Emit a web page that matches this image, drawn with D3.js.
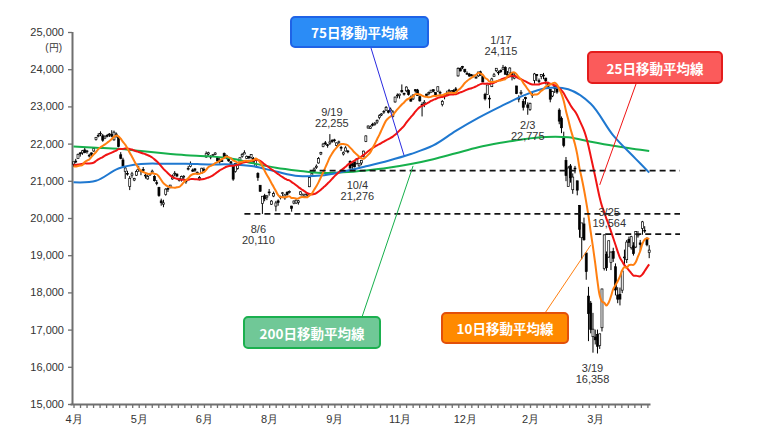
<!DOCTYPE html>
<html>
<head>
<meta charset="utf-8">
<script src="https://cdn.jsdelivr.net/npm/d3@7"></script>
<style>
  html, body { margin: 0; padding: 0; background: #fff; }
  svg { display: block; font-family: "Liberation Sans", Arial, sans-serif; }
  .axis text { font-size: 11px; fill: #333; }
  .axis line, .axis path { stroke: #6f6f6f; }
  .ann { font-size: 11px; fill: #333; }
  .box-label { font-family: "Noto Sans CJK JP", sans-serif; font-weight: bold; font-size: 13.5px; fill: #fff; }
</style>
</head>
<body>
<svg id="chart" width="760" height="437"></svg>
<script>
// trading days, Apr 2019 - Apr 2020
var dates = [
  "4/1","4/2","4/3","4/4","4/5","4/8","4/9","4/10","4/11","4/12","4/15","4/16","4/17","4/18","4/19","4/22","4/23","4/24","4/25","4/26",
  "5/7","5/8","5/9","5/10","5/13","5/14","5/15","5/16","5/17","5/20","5/21","5/22","5/23","5/24","5/27","5/28","5/29","5/30","5/31",
  "6/3","6/4","6/5","6/6","6/7","6/10","6/11","6/12","6/13","6/14","6/17","6/18","6/19","6/20","6/21","6/24","6/25","6/26","6/27","6/28",
  "7/1","7/2","7/3","7/4","7/5","7/8","7/9","7/10","7/11","7/12","7/16","7/17","7/18","7/19","7/22","7/23","7/24","7/25","7/26","7/29","7/30","7/31",
  "8/1","8/2","8/5","8/6","8/7","8/8","8/9","8/13","8/14","8/15","8/16","8/19","8/20","8/21","8/22","8/23","8/26","8/27","8/28","8/29","8/30",
  "9/2","9/3","9/4","9/5","9/6","9/9","9/10","9/11","9/12","9/13","9/17","9/18","9/19","9/20","9/24","9/25","9/26","9/27","9/30",
  "10/1","10/2","10/3","10/4","10/7","10/8","10/9","10/10","10/11","10/15","10/16","10/17","10/18","10/21","10/23","10/24","10/25","10/28","10/29","10/30","10/31",
  "11/1","11/5","11/6","11/7","11/8","11/11","11/12","11/13","11/14","11/15","11/18","11/19","11/20","11/21","11/22","11/25","11/26","11/27","11/28","11/29",
  "12/2","12/3","12/4","12/5","12/6","12/9","12/10","12/11","12/12","12/13","12/16","12/17","12/18","12/19","12/20","12/23","12/24","12/25","12/26","12/27","12/30",
  "1/6","1/7","1/8","1/9","1/10","1/14","1/15","1/16","1/17","1/20","1/21","1/22","1/23","1/24","1/27","1/28","1/29","1/30","1/31",
  "2/3","2/4","2/5","2/6","2/7","2/10","2/12","2/13","2/14","2/17","2/18","2/19","2/20","2/21","2/25","2/26","2/27","2/28",
  "3/2","3/3","3/4","3/5","3/6","3/9","3/10","3/11","3/12","3/13","3/16","3/17","3/18","3/19","3/23","3/24","3/25","3/26","3/27","3/30","3/31",
  "4/1","4/2","4/3","4/6","4/7","4/8","4/9","4/10","4/13","4/14","4/15","4/16","4/17","4/20","4/21","4/22"
];

var opens = [
  21450,21530,21600,21750,21750,21830,21780,21680,21750,21800,22110,22200,22260,22210,22150,22220,22250,22250,22100,22250,
  22160,21700,21560,21250,21200,20850,21150,21020,21150,21320,21280,21300,21150,21050,21160,21230,21120,20950,20820,
  20460,20370,20630,20800,20830,21050,21180,21180,21030,21050,21100,21010,21320,21390,21290,21320,21230,21050,21210,21310,
  21640,21720,21660,21680,21710,21620,21510,21540,21730,21620,21620,21510,21400,21250,21330,21500,21660,21720,21600,21650,21630,21600,
  21390,21200,20880,20390,20600,20560,20700,20370,20590,20320,20460,20570,20660,20540,20690,20690,20320,20400,20400,20420,20630,
  20580,20580,20620,20840,21150,21260,21360,21480,21720,21920,22020,21970,22010,22080,22100,21950,22030,21900,21720,
  21800,21800,21520,21450,21500,21460,21400,21480,21650,22060,22420,22410,22520,22510,22580,22700,22770,22860,22900,22880,22880,
  22730,23120,23300,23290,23430,23350,23420,23430,23250,23200,23450,23440,23260,23050,23080,23330,23340,23380,23450,23370,
  23410,23380,23050,23260,23330,23430,23380,23430,23470,23820,24020,24070,24000,23890,23870,23850,23840,23760,23820,23930,23800,
  23320,23320,23220,23530,23800,23960,23920,23970,24000,24050,23850,23900,23900,23760,23550,23200,23350,23130,23240,
  23040,22920,23310,23700,23860,23690,23800,23840,23760,23620,23460,23280,23540,23470,22900,22680,22150,21550,
  20850,21400,20760,21340,21000,20340,19470,19840,19060,17900,17710,16810,16800,16870,16570,17050,18640,19020,18950,18800,19100,
  18690,17930,17950,18060,18950,18880,19430,19200,19250,19220,19520,19330,19720,19670,19450,19070
];

var highs = [
  21510,21590,21730,21770,21830,21900,21830,21730,21760,21880,22170,22280,22330,22260,22220,22260,22280,22360,22350,22300,
  22200,21770,21620,21390,21270,21130,21240,21080,21300,21400,21300,21370,21220,21170,21200,21300,21150,21020,20840,
  20520,20490,20800,20820,20890,21170,21260,21200,21080,21140,21150,21040,21400,21520,21330,21340,21250,21130,21350,21360,
  21790,21780,21690,21720,21770,21640,21610,21590,21760,21700,21630,21530,21420,21480,21420,21630,21750,21820,21680,21670,21720,21640,
  21600,21230,20880,20590,20650,20620,20780,20480,20710,20460,20500,20600,20700,20650,20720,20740,20330,20470,20500,20490,20720,
  20660,20660,20680,21120,21230,21360,21440,21640,21780,22020,22070,21990,22255,22120,22130,22030,22080,21940,21790,
  21930,21830,21550,21480,21510,21610,21480,21560,21810,22220,22490,22490,22560,22580,22650,22790,22820,22900,23010,22900,22970,
  22900,23260,23350,23340,23590,23370,23540,23460,23290,23330,23460,23470,23290,23110,23170,23340,23400,23440,23460,23380,
  23530,23420,23170,23330,23420,23470,23440,23460,23520,24050,24050,24090,24000,23940,23900,23870,23850,23820,23930,23960,23810,
  23365,23580,23300,23770,23900,24030,23960,23990,24115,24080,23950,24050,23920,23900,23550,23300,23440,23200,23260,
  23110,23100,23400,23900,23870,23750,23870,23900,23770,23660,23460,23420,23560,23490,22950,22730,22320,21640,
  21400,21450,21200,21400,21000,20350,19870,20010,19060,18150,17770,17450,17000,17000,16890,18100,19564,19100,19390,19100,19200,
  18780,18140,18130,18600,19150,19410,19500,19520,19350,19650,19650,19410,19922,19780,19480,19270
];

var lows = [
  21380,21470,21590,21650,21700,21740,21730,21630,21650,21780,22080,22170,22200,22050,22120,22170,22180,22170,22080,22160,
  21900,21580,21380,21050,21140,20750,21080,20990,21130,21240,21150,21250,21060,21030,21130,21180,20980,20880,20570,
  20330,20290,20600,20700,20800,21030,21120,21100,20980,20980,21050,20920,21280,21360,21240,21240,21160,21010,21190,21250,
  21620,21680,21580,21650,21690,21510,21460,21510,21600,21580,21510,21450,21000,21220,21300,21470,21620,21720,21590,21580,21590,21480,
  21380,21000,20700,20110,20450,20480,20600,20350,20560,20180,20330,20500,20580,20490,20600,20660,20170,20370,20380,20360,20610,
  20560,20570,20560,20830,21110,21250,21320,21460,21690,21900,21960,21890,21960,22020,22030,21920,21990,21800,21680,
  21790,21740,21330,21276,21360,21440,21380,21420,21630,22040,22400,22400,22460,22480,22530,22650,22740,22800,22880,22810,22860,
  22700,23100,23220,23210,23370,23290,23380,23290,23130,23170,23370,23290,23130,22730,22980,23250,23300,23370,23380,23270,
  23390,23300,23000,23190,23300,23380,23370,23370,23400,23800,23940,24000,23900,23860,23800,23810,23780,23750,23790,23830,23650,
  23160,23320,22950,23520,23790,23920,23840,23900,23980,23860,23820,23880,23700,23730,23330,23110,23300,22890,23050,
  22775,22880,23230,23610,23680,23620,23730,23730,23590,23500,23110,23250,23360,23340,22520,22280,21900,20990,
  20850,20950,20650,21200,20610,19470,18890,19390,18340,16690,16900,16380,16600,16358,16480,16950,18590,18580,18930,18600,18820,
  17920,17710,17650,17980,18700,18790,19220,19150,18990,19190,19470,19100,19550,19600,19240,18920
];

var closes = [
  21509,21505,21713,21724,21807,21761,21802,21687,21711,21870,22169,22221,22277,22090,22200,22217,22259,22200,22307,22258,
  21923,21602,21402,21344,21191,21067,21188,21062,21250,21301,21272,21283,21151,21117,21182,21260,21003,20942,20601,
  20410,20408,20776,20774,20884,21134,21204,21129,21032,21116,21124,20972,21333,21462,21258,21285,21193,21086,21338,21275,
  21729,21754,21638,21702,21746,21534,21565,21533,21643,21685,21535,21469,21046,21466,21416,21620,21709,21756,21658,21616,21709,21521,
  21540,21087,20720,20585,20516,20593,20684,20455,20655,20405,20418,20563,20677,20618,20628,20710,20261,20456,20479,20460,20704,
  20620,20625,20649,21085,21200,21318,21392,21597,21759,21988,22001,21961,22044,22079,22098,22020,22048,21878,21756,
  21885,21778,21341,21410,21375,21587,21456,21551,21798,22207,22472,22451,22492,22548,22625,22750,22799,22867,22974,22843,22927,
  22850,23251,23303,23330,23391,23331,23520,23319,23141,23303,23416,23292,23148,23038,23112,23292,23373,23437,23409,23293,
  23529,23379,23135,23300,23354,23430,23410,23391,23424,24023,23952,24066,23934,23864,23816,23821,23830,23782,23924,23837,23656,
  23204,23575,23204,23739,23850,24025,23916,23933,24041,23864,23864,24031,23795,23827,23343,23215,23379,22977,23205,
  22971,23084,23319,23873,23827,23685,23861,23827,23687,23523,23194,23400,23479,23386,22605,22426,21948,21142,
  21344,21082,21100,21329,20749,19698,19867,19416,18559,17431,17002,17011,16726,16552,16887,18092,19546,18665,19389,19084,18917,
  18065,17818,17820,18576,18950,19353,19345,19498,19043,19638,19550,19290,19897,19669,19280,19137
];

// closes before 4/1 (2/25 - 3/29), only used to start the 10/25 day averages
var priorCloses = [
  21528,21449,21556,21385,21602,21822,21726,21596,21456,21025,21125,21503,
  21290,21287,21450,21584,21566,21608,21627,20977,21428,21378,21033,21205
];

// 75 / 200 day averages, every 10 trading days
var maDay = [0,10,20,30,40,50,60,70,80,90,100,110,120,130,140,150,160,170,180,190,200,210,220,230,240,250,256];
var ma75 = [20960,21000,21330,21450,21460,21460,21440,21440,21390,21250,21130,21140,21250,21390,21540,21720,21950,22340,22690,23000,23290,23490,23460,23070,22220,21590,21220];
var ma200 = [21920,21890,21860,21800,21740,21690,21660,21600,21470,21350,21270,21210,21230,21280,21350,21450,21580,21740,21900,22020,22120,22180,22170,22050,21940,21850,21800];

var yTicks = [15000,16000,17000,18000,19000,20000,21000,22000,23000,24000,25000];
var monthLabels = ["4月","5月","6月","8月","9月","11月","12月","2月","3月"];

// marked highs / lows
var annDates = ["8/6","9/19","10/4","1/17","2/3","3/19","3/25"];
var annValues = [20110,22255,21276,24115,22775,16358,19564];

// dashed support lines: level date, first date of line
var lineDates = ["10/4","8/6","3/25"];
var lineFrom = ["9/5","7/25","3/18"];

var legendNames = ["75日移動平均線","25日移動平均線","200日移動平均線","10日移動平均線"];
// leader end points on each line (day index, value)
var legendDay = [147, 234, 151, 230];
var legendValue = [21680, 20890, 21400, 19270];


var svg = d3.select("#chart");
var n = closes.length;

var x = d3.scaleLinear().domain([0, n - 1]).range([73.5, 649.2]);
var y = d3.scaleLinear().domain([15000, 25000]).range([404, 32]);

// axes
var yAxis = svg.append("g")
    .attr("class", "axis")
    .attr("transform", "translate(72,0)")
    .call(d3.axisLeft(y).tickValues(yTicks).tickFormat(d3.format(",")).tickSize(4).tickSizeOuter(0).tickPadding(4));

var tickDays = d3.range(0, n, 2.9);
var xAxis = svg.append("g")
    .attr("class", "axis")
    .attr("transform", "translate(0,404)")
    .call(d3.axisBottom(x).tickValues(tickDays).tickSize(4).tickSizeOuter(0).tickPadding(7)
        .tickFormat(function(d, i){ return i % 10 === 0 ? monthLabels[i / 10] : ""; }));

svg.selectAll(".axis path").attr("stroke-width", 2);
svg.selectAll(".axis line").attr("stroke-width", 1.3);
xAxis.select("path").attr("d", "M70.5,0.5H650.5");
yAxis.select("path").attr("d", "M0.5,404.5V32");

svg.append("text")
    .attr("class", "ann")
    .attr("x", 62).attr("y", 51)
    .attr("text-anchor", "end")
    .style("font-size", "10px")
    .text("(円)");

// candles
var candles = svg.append("g");
candles.selectAll("line")
    .data(d3.range(n))
    .enter().append("line")
        .attr("x1", function(i){ return x(i); })
        .attr("x2", function(i){ return x(i); })
        .attr("y1", function(i){ return y(highs[i]); })
        .attr("y2", function(i){ return y(lows[i]); })
        .attr("stroke", "#000")
        .attr("stroke-width", 1);

candles.selectAll("rect")
    .data(d3.range(n))
    .enter().append("rect")
        .attr("x", function(i){ return x(i) - 1; })
        .attr("width", 2)
        .attr("y", function(i){ return y(Math.max(opens[i], closes[i])); })
        .attr("height", function(i){ return Math.max(0.8, Math.abs(y(opens[i]) - y(closes[i]))); })
        .attr("fill", function(i){ return closes[i] >= opens[i] ? "#fff" : "#000"; })
        .attr("stroke", "#000")
        .attr("stroke-width", 0.7);

// moving averages
var allCloses = priorCloses.concat(closes);
function movingAvg(k){
    return closes.map(function(c, i){
        var end = i + priorCloses.length + 1;
        return d3.mean(allCloses.slice(end - k, end));
    });
}
var ma10 = movingAvg(10);
var ma25 = movingAvg(25);

var line = d3.line()
    .x(function(d){ return x(d[0]); })
    .y(function(d){ return y(d[1]); })
    .curve(d3.curveCatmullRom);

var maLines = [
    { pts: maDay.map(function(d, i){ return [d, ma200[i]]; }), color: "#16b04c" },
    { pts: maDay.map(function(d, i){ return [d, ma75[i]]; }), color: "#1f78d0" },
    { pts: ma25.map(function(v, i){ return [i, v]; }), color: "#f01414" },
    { pts: ma10.map(function(v, i){ return [i, v]; }), color: "#ff7f10" }
];

svg.append("g").selectAll("path")
    .data(maLines)
    .enter().append("path")
        .attr("d", function(d){ return line(d.pts); })
        .attr("fill", "none")
        .attr("stroke", function(d){ return d.color; })
        .attr("stroke-width", 2);

// dashed levels
svg.append("g").selectAll("line")
    .data(lineDates)
    .enter().append("line")
        .attr("x1", function(d, i){ return x(dates.indexOf(lineFrom[i])); })
        .attr("x2", 680)
        .attr("y1", function(d){ return y(annValues[annDates.indexOf(d)]); })
        .attr("y2", function(d){ return y(annValues[annDates.indexOf(d)]); })
        .attr("stroke", "#111")
        .attr("stroke-width", 1.8)
        .attr("stroke-dasharray", "6,4");

// high / low labels
var annLayout = [
    { dx: -4, dy: 15 }, { dx: 2, dy: -22 }, { dx: 5, dy: 15 }, { dx: -2, dy: -25 },
    { dx: 0, dy: 10 }, { dx: -5, dy: 15 }, { dx: 5, dy: -22 }
];
var fmt = d3.format(",");
var ann = svg.append("g").selectAll("text")
    .data(annDates)
    .enter().append("text")
        .attr("class", "ann")
        .attr("text-anchor", "middle")
        .attr("x", function(d, i){ return x(dates.indexOf(d)) + annLayout[i].dx; })
        .attr("y", function(d, i){ return y(annValues[i]) + annLayout[i].dy; });
ann.append("tspan").attr("dy", "0.35em").text(function(d){ return d; });
ann.append("tspan")
    .attr("x", function(d, i){ return x(dates.indexOf(d)) + annLayout[i].dx; })
    .attr("dy", "11")
    .text(function(d, i){ return fmt(annValues[i]); });

// legend callouts
var boxes = [
    { x: 291, y: 17, w: 137, h: 30, fill: "#2b8cf6", stroke: "#1f63e6", lead: "#2a2ae0", from: [371, 48] },
    { x: 588, y: 52, w: 134, h: 31, fill: "#fb5b5b", stroke: "#e41c1c", lead: "#f01414", from: [636, 84] },
    { x: 244, y: 317, w: 136, h: 31, fill: "#70c897", stroke: "#1bb04f", lead: "#16b04c", from: [362, 317] },
    { x: 442, y: 313, w: 126, h: 30, fill: "#ff8a00", stroke: "#e2500a", lead: "#ff7f10", from: [545, 313] }
];

var leg = svg.append("g").selectAll("g")
    .data(boxes)
    .enter().append("g");

leg.append("line")
    .attr("x1", function(d){ return d.from[0]; })
    .attr("y1", function(d){ return d.from[1]; })
    .attr("x2", function(d, i){ return x(legendDay[i]); })
    .attr("y2", function(d, i){ return y(legendValue[i]); })
    .attr("stroke", function(d){ return d.lead; })
    .attr("stroke-width", 1);

leg.append("rect")
    .attr("x", function(d){ return d.x; })
    .attr("y", function(d){ return d.y; })
    .attr("width", function(d){ return d.w; })
    .attr("height", function(d){ return d.h; })
    .attr("rx", 4)
    .attr("fill", function(d){ return d.fill; })
    .attr("stroke", function(d){ return d.stroke; })
    .attr("stroke-width", 2);

leg.append("text")
    .attr("class", "box-label")
    .attr("x", function(d){ return d.x + d.w / 2; })
    .attr("y", function(d){ return d.y + d.h / 2; })
    .attr("text-anchor", "middle")
    .attr("dominant-baseline", "central")
    .text(function(d, i){ return legendNames[i]; });
</script>
</body>
</html>
